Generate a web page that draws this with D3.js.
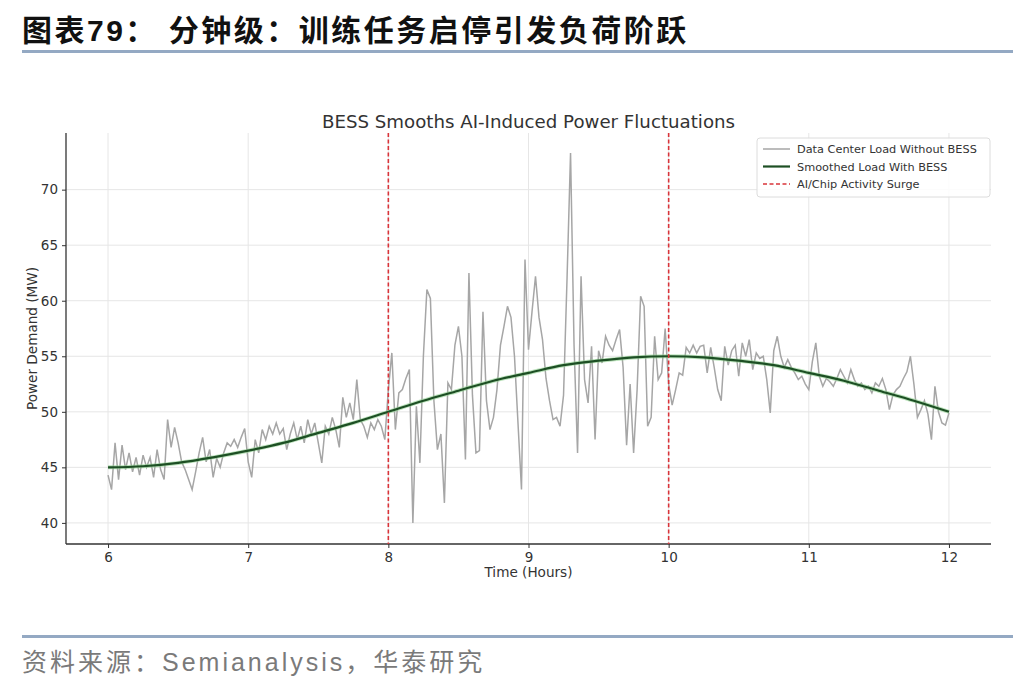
<!DOCTYPE html>
<html>
<head>
<meta charset="utf-8">
<script src="https://cdn.jsdelivr.net/npm/d3@7"></script>
<style>
  body { margin: 0; background: #fff; }
  svg { display: block; }
</style>
</head>
<body>
<svg id="chart" width="1036" height="688"></svg>
<script>
// 页面文字
const pageTitle = "图表79： 分钟级：训练任务启停引发负荷阶跃";
const sourceText = "资料来源：Semianalysis，华泰研究";
const chartTitle = "BESS Smooths AI-Induced Power Fluctuations";
const xLabel = "Time (Hours)";
const yLabel = "Power Demand (MW)";

// 坐标刻度
const xTicks = [6, 7, 8, 9, 10, 11, 12];
const yTicks = [40, 45, 50, 55, 60, 65, 70];
const surgeTimes = [8, 10];

// 图例
const legendLabels = ["Data Center Load Without BESS", "Smoothed Load With BESS", "AI/Chip Activity Surge"];

// 原始负荷（每 1.5 分钟一个点，6:00 - 12:00）
const startHour = 6;
const stepHour = 0.025;
const rawLoad = [
  // 6-7
  44.3, 43.0, 47.2, 43.9, 47.0, 44.8, 46.3, 44.6, 45.9, 44.3,
  46.1, 45.0, 45.9, 44.1, 46.6, 44.8, 43.9, 49.3, 46.8, 48.6,
  47.2, 45.5, 44.8, 43.9, 43.0, 44.6, 46.3, 47.7, 45.5, 46.6,
  44.1, 45.8, 45.0, 46.3, 47.2, 46.9, 47.5, 46.8, 47.7, 48.5,
  45.5,
  // 7-8
  44.1, 47.5, 46.3, 48.4, 47.5, 48.7, 48.0, 49.0, 48.0, 48.5,
  46.6, 48.0, 49.0, 47.5, 48.7, 47.2, 49.3, 48.0, 49.0, 47.2,
  45.4, 48.7, 48.0, 49.5, 48.4, 46.8, 51.3, 49.5, 50.8, 49.3,
  52.9, 49.3, 48.7, 47.7, 49.0, 48.4, 49.3, 48.7, 47.5, 52.0,
  // 8-9
  55.3, 48.4, 51.7, 52.0, 53.0, 53.8, 40.0, 50.5, 45.4, 55.0,
  61.0, 60.2, 51.0, 46.6, 48.0, 41.8, 52.6, 52.0, 56.0, 57.7,
  55.0, 45.7, 62.5, 51.5, 46.3, 46.5, 59.0, 51.0, 48.4, 49.5,
  52.0, 56.0, 57.7, 59.5, 58.5, 55.0, 49.0, 43.0, 63.7, 55.6,
  // 9-10
  59.0, 62.2, 58.5, 56.5, 53.0, 51.0, 49.3, 49.5, 48.7, 51.5,
  62.0, 73.3, 56.0, 46.3, 62.2, 52.9, 50.8, 55.9, 47.5, 55.5,
  54.4, 56.8, 56.0, 55.5, 56.5, 57.4, 54.0, 47.0, 52.5, 46.3,
  52.0, 60.4, 59.5, 48.7, 49.5, 56.8, 52.9, 53.5, 57.5, 52.5,
  // 10-11
  50.6, 52.0, 53.5, 53.3, 55.8, 55.3, 56.0, 55.3, 55.9, 56.0,
  53.5, 55.8, 54.0, 52.0, 51.0, 55.9, 54.2, 55.5, 56.0, 53.2,
  56.2, 55.0, 56.5, 53.8, 55.3, 54.8, 55.0, 52.9, 49.9, 55.5,
  56.8, 55.0, 54.0, 54.7, 54.0, 53.5, 52.9, 53.2, 52.5, 52.0,
  // 11-12
  54.5, 56.2, 53.2, 52.3, 53.0, 52.7, 52.3, 53.0, 53.8, 53.2,
  52.6, 53.8, 52.9, 52.3, 52.6, 52.0, 52.3, 51.7, 52.6, 52.3,
  53.0, 52.0, 50.2, 51.5, 52.0, 52.3, 53.0, 53.6, 55.0, 52.5,
  49.5, 50.2, 51.0, 49.8, 47.5, 52.3, 50.0, 49.0, 48.8, 49.9
];

// 平滑后负荷（每 15 分钟读一个点）
const smoothHours = [6, 6.25, 6.5, 6.75, 7, 7.25, 7.5, 7.75, 8, 8.25, 8.5, 8.75, 9,
  9.25, 9.5, 9.75, 10, 10.25, 10.5, 10.75, 11, 11.25, 11.5, 11.75, 12];
const smoothLoad = [45.0, 45.1, 45.4, 45.9, 46.5, 47.2, 48.1, 49.0, 50.0, 51.0, 51.9, 52.8, 53.5,
  54.2, 54.6, 54.9, 55.0, 54.9, 54.6, 54.2, 53.5, 52.8, 51.9, 51.0, 50.0];

const svg = d3.select("#chart");

// 页眉
const cjkFont = "'Liberation Sans', 'Noto Sans CJK SC', sans-serif";
svg.append("text")
  .attr("x", 22).attr("y", 41)
  .attr("font-family", cjkFont)
  .attr("font-size", 30)
  .attr("font-weight", "bold")
  .attr("letter-spacing", 2.5)
  .attr("fill", "#111")
  .text(pageTitle);

svg.append("rect").attr("x", 22).attr("y", 50).attr("width", 991).attr("height", 3).attr("fill", "#94a9c3");
svg.append("rect").attr("x", 22).attr("y", 635).attr("width", 991).attr("height", 3).attr("fill", "#94a9c3");

svg.append("text")
  .attr("x", 22).attr("y", 671)
  .attr("font-family", cjkFont)
  .attr("font-size", 25)
  .attr("letter-spacing", 3)
  .attr("fill", "#7a7a7a")
  .text(sourceText);

// 图表区域
const plot = { left: 66, right: 991, top: 133, bottom: 544 };
const chartFont = "'DejaVu Sans', sans-serif";

const x = d3.scaleLinear().domain([5.7, 12.3]).range([plot.left, plot.right]);
const y = d3.scaleLinear().domain([38.1, 75.1]).range([plot.bottom, plot.top]);

// 网格
const grid = svg.append("g").attr("stroke", "#e6e6e6").attr("stroke-width", 1);
grid.selectAll(".gx").data(xTicks).enter().append("line")
  .attr("x1", d => x(d)).attr("x2", d => x(d))
  .attr("y1", plot.top).attr("y2", plot.bottom);
grid.selectAll(".gy").data(yTicks).enter().append("line")
  .attr("x1", plot.left).attr("x2", plot.right)
  .attr("y1", d => y(d)).attr("y2", d => y(d));

// 坐标轴
const xAxis = svg.append("g")
  .attr("transform", `translate(0, ${plot.bottom})`)
  .call(d3.axisBottom(x).tickValues(xTicks).tickSize(4).tickPadding(4).tickFormat(d3.format("d")));
const yAxis = svg.append("g")
  .attr("transform", `translate(${plot.left}, 0)`)
  .call(d3.axisLeft(y).tickValues(yTicks).tickSize(4).tickPadding(4).tickFormat(d3.format("d")));

[xAxis, yAxis].forEach(ax => {
  ax.select(".domain").attr("stroke", "#333").attr("stroke-width", 1.3);
  ax.selectAll(".tick line").attr("stroke", "#333");
  ax.selectAll(".tick text")
    .attr("font-family", chartFont)
    .attr("font-size", 13.5)
    .attr("fill", "#333");
});
xAxis.select(".domain").attr("d", `M${plot.left},0H${plot.right}`);
yAxis.select(".domain").attr("d", `M0,${plot.bottom}V${plot.top}`);

// 原始负荷曲线
const rawPoints = rawLoad.map((v, i) => ({ t: startHour + i * stepHour, v }));
svg.append("path")
  .datum(rawPoints)
  .attr("fill", "none")
  .attr("stroke", "#a6a6a6")
  .attr("stroke-width", 1.5)
  .attr("d", d3.line().x(d => x(d.t)).y(d => y(d.v)));

// 平滑曲线
const smoothPoints = smoothHours.map((t, i) => ({ t, v: smoothLoad[i] }));
svg.append("path")
  .datum(smoothPoints)
  .attr("fill", "none")
  .attr("stroke", "#8fd18f")
  .attr("stroke-opacity", 0.6)
  .attr("stroke-width", 4)
  .attr("d", d3.line().curve(d3.curveCatmullRom).x(d => x(d.t)).y(d => y(d.v)));
svg.append("path")
  .datum(smoothPoints)
  .attr("fill", "none")
  .attr("stroke", "#1d4f24")
  .attr("stroke-width", 2.2)
  .attr("d", d3.line().curve(d3.curveCatmullRom).x(d => x(d.t)).y(d => y(d.v)));

// 激增时刻虚线
svg.selectAll(".surge").data(surgeTimes).enter().append("line")
  .attr("x1", d => x(d)).attr("x2", d => x(d))
  .attr("y1", plot.top).attr("y2", plot.bottom)
  .attr("stroke", "#d9343a")
  .attr("stroke-width", 1.6)
  .attr("stroke-dasharray", "4,2.5");

// 标题与轴标签
svg.append("text")
  .attr("x", (plot.left + plot.right) / 2).attr("y", 128)
  .attr("text-anchor", "middle")
  .attr("font-family", chartFont)
  .attr("font-size", 18.2)
  .attr("fill", "#333")
  .text(chartTitle);

svg.append("text")
  .attr("x", (plot.left + plot.right) / 2).attr("y", 577)
  .attr("text-anchor", "middle")
  .attr("font-family", chartFont)
  .attr("font-size", 13.6)
  .attr("fill", "#333")
  .text(xLabel);

svg.append("text")
  .attr("transform", `translate(37, ${(plot.top + plot.bottom) / 2}) rotate(-90)`)
  .attr("text-anchor", "middle")
  .attr("font-family", chartFont)
  .attr("font-size", 13.6)
  .attr("fill", "#333")
  .text(yLabel);

// 图例
const legend = svg.append("g").attr("transform", "translate(757, 138)");
legend.append("rect")
  .attr("width", 233).attr("height", 59).attr("rx", 3)
  .attr("fill", "#fff").attr("fill-opacity", 0.85)
  .attr("stroke", "#dcdcdc");

const legendStyles = [
  { stroke: "#a6a6a6", width: 1.5, dash: null },
  { stroke: "#1d4f24", width: 2.2, dash: null },
  { stroke: "#d9343a", width: 1.6, dash: "4,2.5" }
];
legend.selectAll(".item").data(legendLabels).enter().append("g")
  .attr("transform", (d, i) => `translate(0, ${11 + i * 17.5})`)
  .each(function(d, i) {
    const g = d3.select(this);
    g.append("line")
      .attr("x1", 6).attr("x2", 33)
      .attr("stroke", legendStyles[i].stroke)
      .attr("stroke-width", legendStyles[i].width)
      .attr("stroke-dasharray", legendStyles[i].dash);
    g.append("text")
      .attr("x", 40).attr("y", 4)
      .attr("font-family", chartFont)
      .attr("font-size", 11.3)
      .attr("fill", "#333")
      .text(d);
  });
</script>
</body>
</html>
